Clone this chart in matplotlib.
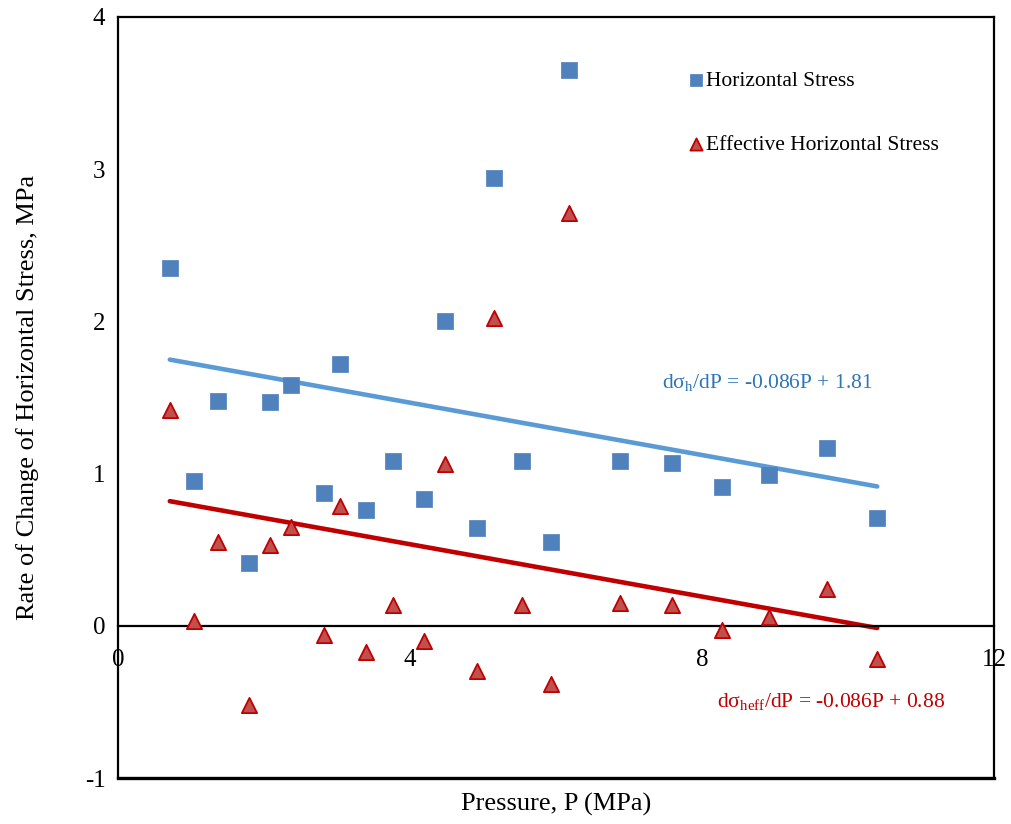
import matplotlib
matplotlib.use("Agg")
from matplotlib import pyplot as plt
import numpy as np

plt.rcParams['font.family'] = ['Liberation Serif', 'DejaVu Serif']
plt.rcParams['mathtext.fontset'] = 'custom'
plt.rcParams['mathtext.rm'] = 'Liberation Serif'
plt.rcParams['mathtext.it'] = 'Liberation Serif:italic'
plt.rcParams['axes.unicode_minus'] = False

# Pressão (MPa)
pressao = [0.71, 1.04, 1.37, 1.79, 2.08, 2.37, 2.82, 3.04, 3.40, 3.77, 4.19, 4.48,
           4.92, 5.15, 5.53, 5.93, 6.18, 6.88, 7.59, 8.27, 8.92, 9.71, 10.40]
# Taxa de variação da tensão horizontal
tensao_h = [2.35, 0.95, 1.48, 0.41, 1.47, 1.58, 0.87, 1.72, 0.76, 1.08, 0.83, 2.00,
            0.64, 2.94, 1.08, 0.55, 3.65, 1.08, 1.07, 0.91, 0.99, 1.17, 0.71]
# Tensão horizontal efetiva
tensao_heff = [1.42, 0.03, 0.55, -0.52, 0.53, 0.65, -0.06, 0.79, -0.17, 0.14, -0.10, 1.06,
               -0.30, 2.02, 0.14, -0.38, 2.71, 0.15, 0.14, -0.03, 0.06, 0.24, -0.22]

# Retas de tendência
inclinacao = -0.086
intercepto_h = 1.81
intercepto_heff = 0.88

fig = plt.figure(figsize=(10.11, 8.24), dpi=100)
ax = fig.add_axes([0.1167, 0.0558, 0.8665, 0.9236])

x_fit = np.array([min(pressao), max(pressao)])
ax.plot(x_fit, inclinacao * x_fit + intercepto_h, color='#5B9BD5', lw=3.3,
        solid_capstyle='round', zorder=2)
ax.plot(x_fit, inclinacao * x_fit + intercepto_heff, color='#C00000', lw=3.3,
        solid_capstyle='round', zorder=2)

ax.scatter(pressao, tensao_h, marker='s', s=120, color='#4F81BD', edgecolors='#4F81BD',
           linewidths=0.5, zorder=3, label='Horizontal Stress')
ax.scatter(pressao, tensao_heff, marker='^', s=120, color='#C0504D', edgecolors='#C00000',
           linewidths=1.3, zorder=3, label='Effective Horizontal Stress')

ax.set_xlim(0, 12)
ax.set_ylim(-1, 4)
ax.set_xticks([0, 4, 8, 12])
ax.set_yticks([-1, 0, 1, 2, 3, 4])

# eixo x passando pelo zero
ax.spines['bottom'].set_position(('data', 0))
for s in ax.spines.values():
    s.set_linewidth(1.6)
ax.axhline(-1, color='black', lw=2.4, clip_on=False, zorder=4)

ax.tick_params(axis='x', length=0, pad=17, labelsize=18)
ax.tick_params(axis='y', length=0, pad=9, labelsize=18)

ax.set_xlabel('Pressure, P (MPa)', fontsize=19)
ax.xaxis.set_label_coords(0.5, -0.02)
ax.set_ylabel('Rate of Change of Horizontal Stress, MPa', fontsize=19)
ax.yaxis.set_label_coords(-0.09, 0.5)

ax.text(7.45, 1.6, 'dσ$_\\mathrm{h}$/dP = -0.086P + 1.81', color='#2E75B6',
        fontsize=15.5, va='center')
ax.text(8.2, -0.5, 'dσ$_\\mathrm{heff}$/dP = -0.086P + 0.88', color='#C00000',
        fontsize=15.5, va='center')

ax.legend(loc='upper left', bbox_to_anchor=(0.625, 0.955), frameon=False, fontsize=15.5,
          markerscale=0.8, handletextpad=0.0, handlelength=1.0, labelspacing=2.05)

fig.savefig('out.png', dpi=100)
